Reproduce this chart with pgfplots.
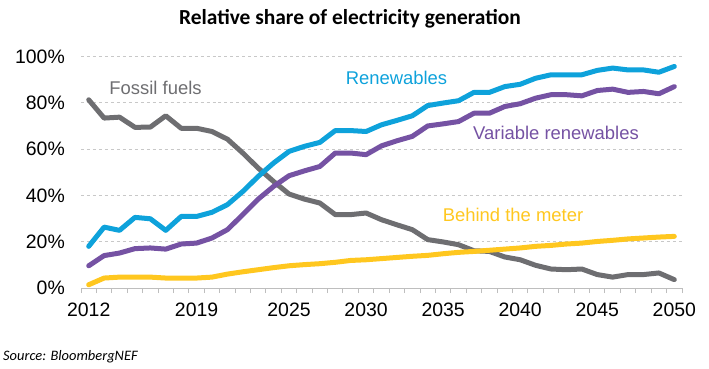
\documentclass[border=0pt]{standalone}
\usepackage{pgfplots}
\usepackage{pgfplotstable}
\pgfplotsset{compat=1.18}
\usepackage{fontspec}
\setmainfont{Liberation Sans}
\newfontfamily\calibri{Carlito}
\definecolor{cFossil}{RGB}{110,110,113}
\definecolor{cRen}{RGB}{14,162,219}
\definecolor{cVar}{RGB}{117,82,163}
\definecolor{cBtm}{RGB}{255,199,31}
\definecolor{cGrid}{RGB}{200,200,200}
\definecolor{cAxis}{RGB}{190,190,190}
\pgfplotstableread{
year fossil ren var btm
2012 81.3 18.0 9.6 1.4
2013 73.4 26.3 14.0 4.3
2014 73.8 24.9 15.1 4.7
2015 69.4 30.5 17.0 4.7
2016 69.5 29.9 17.3 4.7
2017 74.4 24.9 16.8 4.3
2018 69.0 30.9 19.0 4.3
2019 69.0 30.9 19.4 4.3
2020 67.6 32.7 21.6 4.7
2021 64.3 36.0 25.2 6.0
2022 58.3 41.7 31.7 7.0
2023 51.8 48.2 38.4 7.9
2024 46.0 54.0 43.9 8.8
2025 40.6 59.0 48.5 9.6
2026 38.4 61.2 50.6 10.1
2027 36.7 62.9 52.5 10.5
2028 31.7 68.0 58.3 11.1
2029 31.7 68.0 58.3 11.9
2030 32.4 67.6 57.6 12.2
2031 29.5 70.5 61.4 12.7
2032 27.3 72.4 63.6 13.2
2033 25.2 74.4 65.5 13.7
2034 20.9 78.8 70.0 14.1
2035 19.9 79.9 70.9 14.8
2036 18.7 80.9 71.9 15.4
2037 16.1 84.5 75.5 15.8
2038 15.8 84.5 75.5 16.3
2039 13.4 87.0 78.4 16.8
2040 12.2 88.0 79.6 17.3
2041 9.8 90.6 82.0 18.0
2042 8.2 92.1 83.5 18.4
2043 7.9 92.1 83.5 19.0
2044 8.2 92.1 83.0 19.4
2045 5.8 94.0 85.3 20.1
2046 4.7 95.0 85.9 20.6
2047 5.8 94.2 84.5 21.2
2048 5.8 94.2 84.9 21.6
2049 6.5 93.2 83.9 22.0
2050 3.6 95.7 87.0 22.3
}\datatable
\begin{document}
\begin{tikzpicture}[x=1bp,y=1bp]
\useasboundingbox (0,0) rectangle (709,368);
\begin{axis}[
  at={(81bp,80bp)}, anchor=south west,
  scale only axis, width=601bp, height=231.5bp,
  xmin=2011.5, xmax=2050.5, ymin=0, ymax=100,
  axis x line*=bottom, axis y line*=left,
  x axis line style={-, draw=cAxis, line width=1bp},
  y axis line style={draw=none},
  xtick={2012,2019,2025,2030,2035,2040,2045,2050},
  xticklabels={2012,2019,2025,2030,2035,2040,2045,2050},
  minor xtick={2011.5,2012.5,...,2050.5},
  ytick={0,20,40,60,80,100},
  yticklabels={0\%,20\%,40\%,60\%,80\%,100\%},
  major tick length=0pt,
  minor tick length=5bp,
  xtick align=outside,
  minor tick style={draw=cAxis, line width=1bp},
  ymajorgrids,
  major grid style={draw=cGrid, dashed, line width=0.8bp},
  tick label style={font=\fontsize{19.5}{20}\selectfont, text=black},
  xticklabel style={inner sep=0pt, anchor=north, yshift=-15bp},
  yticklabel style={inner sep=0pt, anchor=east, xshift=-16bp},
  clip=false,
]
\addplot[cFossil, line width=5bp, line join=round, line cap=round] table[x=year,y=fossil]{\datatable};
\addplot[cBtm, line width=5bp, line join=round, line cap=round] table[x=year,y=btm]{\datatable};
\addplot[cVar, line width=5bp, line join=round, line cap=round] table[x=year,y=var]{\datatable};
\addplot[cRen, line width=5bp, line join=round, line cap=round] table[x=year,y=ren]{\datatable};
\end{axis}
\node[font=\calibri\bfseries\fontsize{21.5}{24}\selectfont] at (350,349) {Relative share of electricity generation};
\node[font=\calibri\itshape\fontsize{14.5}{16}\selectfont, anchor=west, inner sep=0pt] at (3,11) {Source: BloombergNEF};
\node[font=\fontsize{18.5}{20}\selectfont, text=cFossil] at (155.5,280) {Fossil fuels};
\node[font=\fontsize{18.5}{20}\selectfont, text=cRen] at (396.5,290) {Renewables};
\node[font=\fontsize{18.5}{20}\selectfont, text=cVar] at (556,235) {Variable renewables};
\node[font=\fontsize{18.5}{20}\selectfont, text=cBtm] at (513,153) {Behind the meter};
\end{tikzpicture}
\end{document}
